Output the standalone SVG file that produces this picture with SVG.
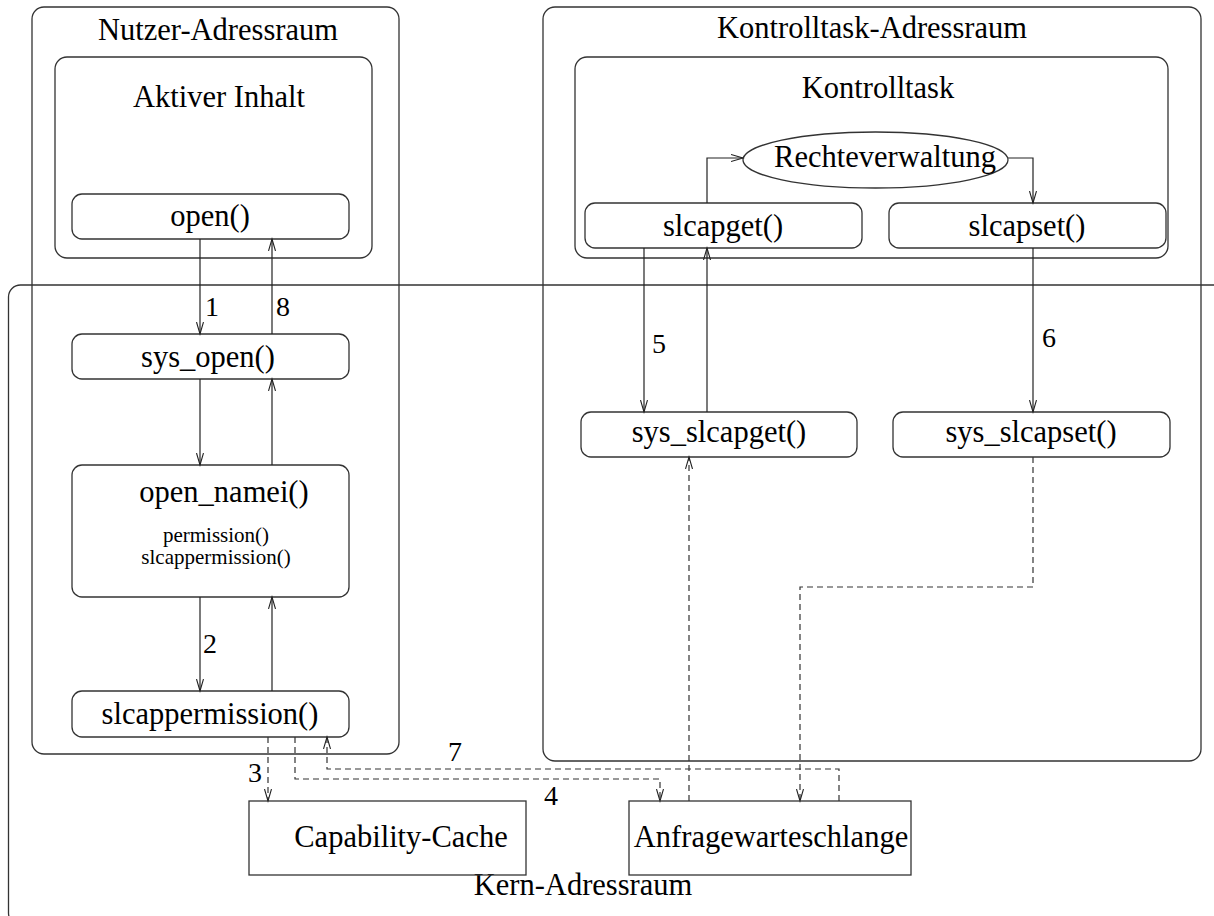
<svg xmlns="http://www.w3.org/2000/svg" width="1214" height="916" viewBox="0 0 1214 916">
<style>
.box{fill:none;stroke:#333;stroke-width:1.3}
.t{font-family:"Liberation Serif","Times New Roman",serif;font-size:30.5px;fill:#000;text-anchor:middle}
.s{font-family:"Liberation Serif","Times New Roman",serif;font-size:21px;fill:#000;text-anchor:middle}
.n{font-family:"Liberation Serif","Times New Roman",serif;font-size:28px;fill:#000}
.c{fill:none;stroke:#222;stroke-width:1.2;marker-end:url(#ah)}
.d{fill:none;stroke:#333;stroke-width:1.2;stroke-dasharray:6 4;marker-end:url(#ah)}
</style>
<defs>
<marker id="ah" markerUnits="userSpaceOnUse" markerWidth="14" markerHeight="10" refX="12" refY="4" orient="auto">
<path d="M0,0.5 L12,4 L0,7.5" fill="none" stroke="#222" stroke-width="1.1"/>
</marker>
</defs>
<g id="kern">
<rect class="box" x="8.5" y="285" width="1240" height="640" rx="12"/>
<text class="t" x="583" y="895">Kern-Adressraum</text>
</g>
<g id="nutzer">
<rect class="box" x="32" y="7" width="367" height="747" rx="12"/>
<text class="t" x="218" y="40">Nutzer-Adressraum</text>
</g>
<g id="aktiver">
<rect class="box" x="55" y="57" width="317" height="201" rx="12"/>
<text class="t" x="219" y="107">Aktiver Inhalt</text>
</g>
<g id="open">
<rect class="box" x="72" y="194" width="277" height="45" rx="10"/>
<text class="t" x="210" y="226">open()</text>
</g>
<g id="sys_open">
<rect class="box" x="72" y="334" width="277" height="45" rx="10"/>
<text class="t" x="208" y="367">sys_open()</text>
</g>
<g id="open_namei">
<rect class="box" x="72" y="465" width="277" height="132" rx="10"/>
<text class="t" x="224" y="502">open_namei()</text>
<text class="s" x="216" y="542">permission()</text>
<text class="s" x="216" y="564">slcappermission()</text>
</g>
<g id="slcappermission">
<rect class="box" x="72" y="691" width="277" height="46" rx="10"/>
<text class="t" x="210" y="724">slcappermission()</text>
</g>
<g id="kontrolltask-adressraum">
<rect class="box" x="543" y="7" width="658" height="754" rx="12"/>
<text class="t" x="872" y="38">Kontrolltask-Adressraum</text>
</g>
<g id="kontrolltask">
<rect class="box" x="575" y="57" width="593" height="201" rx="12"/>
<text class="t" x="878" y="98">Kontrolltask</text>
</g>
<g id="rechteverwaltung">
<ellipse class="box" cx="875.5" cy="160" rx="132.5" ry="28"/>
<text class="t" x="885" y="167">Rechteverwaltung</text>
</g>
<g id="slcapget">
<rect class="box" x="585" y="203" width="277" height="45" rx="10"/>
<text class="t" x="723" y="236">slcapget()</text>
</g>
<g id="slcapset">
<rect class="box" x="889" y="203" width="277" height="45" rx="10"/>
<text class="t" x="1027" y="236">slcapset()</text>
</g>
<g id="sys_slcapget">
<rect class="box" x="581" y="412" width="276" height="45" rx="10"/>
<text class="t" x="719" y="442">sys_slcapget()</text>
</g>
<g id="sys_slcapset">
<rect class="box" x="893" y="412" width="277" height="45" rx="10"/>
<text class="t" x="1031" y="442">sys_slcapset()</text>
</g>
<g id="capability-cache">
<rect class="box" x="249" y="801" width="277" height="74"/>
<text class="t" x="401" y="847">Capability-Cache</text>
</g>
<g id="anfragewarteschlange">
<rect class="box" x="629" y="801" width="282" height="74"/>
<text class="t" x="771" y="847">Anfragewarteschlange</text>
</g>
<g id="connectors">
<path class="c" d="M200,239 V334"/>
<path class="c" d="M272,334 V239"/>
<path class="c" d="M200,379 V465"/>
<path class="c" d="M272,465 V379"/>
<path class="c" d="M200,597 V691"/>
<path class="c" d="M272,691 V597"/>
<path class="d" d="M268,737 V801"/>
<path class="d" d="M295,737 V779 H660 V801"/>
<path class="d" d="M839,801 V769 H327 V737"/>
<path class="d" d="M689,801 V457"/>
<path class="d" d="M1033,457 V587 H800 V801"/>
<path class="c" d="M644,248 V412"/>
<path class="c" d="M707,412 V248"/>
<path class="c" d="M1033,248 V412"/>
<path class="c" d="M707,203 V158 H743"/>
<path class="c" d="M1008,158 H1033 V203"/>
<text class="n" x="205" y="316">1</text>
<text class="n" x="276" y="316">8</text>
<text class="n" x="203" y="653">2</text>
<text class="n" x="248" y="782">3</text>
<text class="n" x="544" y="805">4</text>
<text class="n" x="652" y="353">5</text>
<text class="n" x="1042" y="347">6</text>
<text class="n" x="448" y="761">7</text>
</g>
</svg>
